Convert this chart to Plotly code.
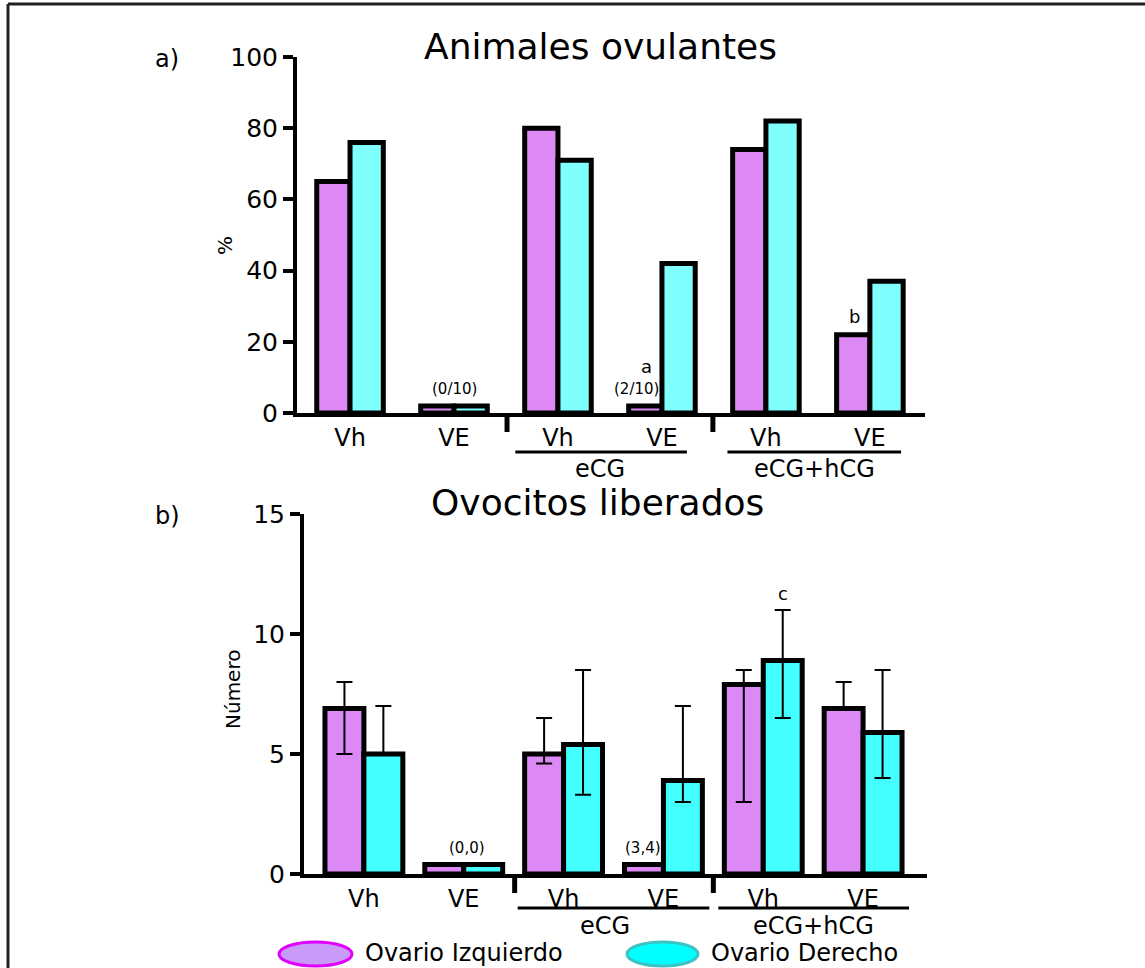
import plotly.graph_objects as go

W, H = 1145, 968

# ---------------- data ----------------
tick_labels = ["Vh", "VE", "Vh", "VE", "Vh", "VE"]
group_labels = ["eCG", "eCG+hCG"]
series_names = ["Ovario Izquierdo", "Ovario Derecho"]

# a) Animales ovulantes (%)
a_izq = [65, 2, 80, 2, 74, 22]
a_der = [76, 2, 71, 42, 82, 37]

# b) Ovocitos liberados (Número), mean with error bar limits
b_izq = [6.9, 0.4, 5.0, 0.4, 7.9, 6.9]
b_izq_hi = [8.0, 0.4, 6.5, 0.4, 8.5, 8.0]
b_izq_lo = [5.0, 0.4, 4.6, 0.4, 3.0, 6.9]
b_der = [5.0, 0.4, 5.4, 3.9, 8.9, 5.9]
b_der_hi = [7.0, 0.4, 8.5, 7.0, 11.0, 8.5]
b_der_lo = [5.0, 0.4, 3.3, 3.0, 6.5, 4.0]

a_notes = [(1, 2, "(0/10)"), (3, 2, "(2/10)")]
a_letters = [(3, 2, "a"), (5, 22, "b")]
b_notes = [(1, 0.4, "(0,0)"), (3, 0.4, "(3,4)")]
b_letters = [(4, 11.0, "c")]

# ---------------- styling ----------------
FONT = "DejaVu Sans"
PURPLE = "#DC88F5"
CYAN_A = "#80FFFF"
CYAN_B = "#44FFFF"

x = list(range(len(tick_labels)))


def px_x(p):
    return p / W


def px_y(p):
    return 1 - p / H


fig = go.Figure()

line_style = dict(color="black", width=5)

fig.add_trace(go.Bar(x=x, y=a_izq, name=series_names[0], marker=dict(color=PURPLE, line=line_style),
                     width=0.32, offset=-0.32, xaxis="x", yaxis="y", showlegend=False))
fig.add_trace(go.Bar(x=x, y=a_der, name=series_names[1], marker=dict(color=CYAN_A, line=line_style),
                     width=0.32, offset=0.0, xaxis="x", yaxis="y", showlegend=False))

err_izq_p = [h - v for h, v in zip(b_izq_hi, b_izq)]
err_izq_m = [v - l for v, l in zip(b_izq, b_izq_lo)]
err_der_p = [h - v for h, v in zip(b_der_hi, b_der)]
err_der_m = [v - l for v, l in zip(b_der, b_der_lo)]

fig.add_trace(go.Bar(x=x, y=b_izq, name=series_names[0], marker=dict(color=PURPLE, line=line_style),
                     error_y=dict(type="data", symmetric=False, array=err_izq_p, arrayminus=err_izq_m,
                                  color="black", thickness=2, width=8),
                     width=0.39, offset=-0.39, xaxis="x2", yaxis="y2", showlegend=False))
fig.add_trace(go.Bar(x=x, y=b_der, name=series_names[1], marker=dict(color=CYAN_B, line=line_style),
                     error_y=dict(type="data", symmetric=False, array=err_der_p, arrayminus=err_der_m,
                                  color="black", thickness=2, width=8),
                     width=0.39, offset=0.0, xaxis="x2", yaxis="y2", showlegend=False))

xaxis_common = dict(tickmode="array", tickvals=x, ticktext=tick_labels, ticks="",
                    showline=True, linecolor="black", linewidth=4, showgrid=False, zeroline=False,
                    tickfont=dict(family=FONT, size=24, color="black"), automargin=False)
yaxis_common = dict(showline=True, linecolor="black", linewidth=4, ticks="outside", ticklen=10,
                    tickwidth=4, tickcolor="black", showgrid=False, zeroline=False, automargin=False,
                    tickfont=dict(family=FONT, size=25, color="black"))

fig.update_layout(
    width=W, height=H,
    margin=dict(l=0, r=0, t=0, b=0, pad=0, autoexpand=False),
    paper_bgcolor="white", plot_bgcolor="white",
    barmode="overlay",
    font=dict(family=FONT, color="black"),
    xaxis=dict(xaxis_common, domain=[px_x(297), px_x(925)], range=[-0.51, 5.53], anchor="y"),
    yaxis=dict(yaxis_common, domain=[px_y(413), px_y(57)], range=[0, 100], tickvals=[0, 20, 40, 60, 80, 100],
               anchor="x"),
    xaxis2=dict(xaxis_common, domain=[px_x(304), px_x(927)], range=[-0.6, 5.64], anchor="y2"),
    yaxis2=dict(yaxis_common, domain=[px_y(874), px_y(514)], range=[0, 15], tickvals=[0, 5, 10, 15],
                anchor="x2"),
)

ann = []
shapes = []


def txt(text, xv, yv, size, xref="paper", yref="paper", xanchor="center", **kw):
    d = dict(text=text, x=xv, y=yv, xref=xref, yref=yref, xanchor=xanchor, yanchor="middle",
             showarrow=False, font=dict(family=FONT, size=size, color="black"))
    d.update(kw)
    ann.append(d)


# titles, panel letters, axis titles
txt("Animales ovulantes", px_x(600), px_y(47), 36)
txt("Ovocitos liberados", px_x(597), px_y(503), 36)
txt("a)", px_x(167), px_y(59), 24)
txt("b)", px_x(167), px_y(516), 24)
txt("%", px_x(225), px_y(245), 20, textangle=-90)
txt("Número", px_x(233), px_y(690), 20, textangle=-90)
# cut-off caption at the very top edge (only its lowest part is visible)
txt("(Figura 2)", px_x(1141), px_y(-13), 24, xanchor="right")

# notes
for xi, yv, t in a_notes:
    txt(t, xi - 0.24 if xi == 3 else xi, yv, 15, xref="x", yref="y", yshift=17)
for xi, yv, t in a_letters:
    txt(t, xi - 0.15, yv, 18, xref="x", yref="y", yshift=39 if t == "a" else 18)
for xi, yv, t in b_notes:
    txt(t, xi + 0.03 if xi == 1 else xi - 0.2, yv, 15, xref="x2", yref="y2", yshift=16)
for xi, yv, t in b_letters:
    txt(t, xi + 0.2, yv, 18, xref="x2", yref="y2", yshift=17)

# group labels, underlines and separators
for xa, base, line_y, lab_y, spans, centers, seps in [
    ("x", 413, 452, 469, [(1.59, 3.24), (3.63, 5.30)], [2.4, 4.47], [1.51, 3.49]),
    ("x2", 874, 908, 926, [(1.54, 3.46), (3.55, 5.46)], [2.41, 4.5], [1.51, 3.5]),
]:
    for (x0, x1), c, lab in zip(spans, centers, group_labels):
        shapes.append(dict(type="line", xref=xa, yref="paper", x0=x0, x1=x1,
                           y0=px_y(line_y), y1=px_y(line_y), line=dict(color="black", width=3)))
        txt(lab, c, px_y(lab_y), 24, xref=xa)
    for sx in seps:
        shapes.append(dict(type="line", xref=xa, yref="paper", x0=sx, x1=sx,
                           y0=px_y(base), y1=px_y(base + 19), line=dict(color="black", width=5)))

# legend (ellipses + text)
shapes.append(dict(type="circle", xref="paper", yref="paper", x0=px_x(279), x1=px_x(352),
                   y0=px_y(966), y1=px_y(942), fillcolor="#C99BF9", line=dict(color="#E000FF", width=3)))
shapes.append(dict(type="circle", xref="paper", yref="paper", x0=px_x(627), x1=px_x(698),
                   y0=px_y(966), y1=px_y(942), fillcolor="#00FFFF", line=dict(color="#3CC4C4", width=3)))
txt(series_names[0], px_x(363), px_y(953), 24, xanchor="left")
txt(series_names[1], px_x(709), px_y(953), 24, xanchor="left")

# frame
shapes.append(dict(type="line", xref="paper", yref="paper", x0=px_x(8), x1=1, y0=px_y(4), y1=px_y(4),
                   line=dict(color="#222222", width=3)))
shapes.append(dict(type="line", xref="paper", yref="paper", x0=px_x(8), x1=px_x(8), y0=px_y(4), y1=0,
                   line=dict(color="#222222", width=3)))

fig.update_layout(annotations=ann, shapes=shapes)

fig.write_html("out.html", config={"displayModeBar": False},
               post_script="document.body.style.margin='0px';")
